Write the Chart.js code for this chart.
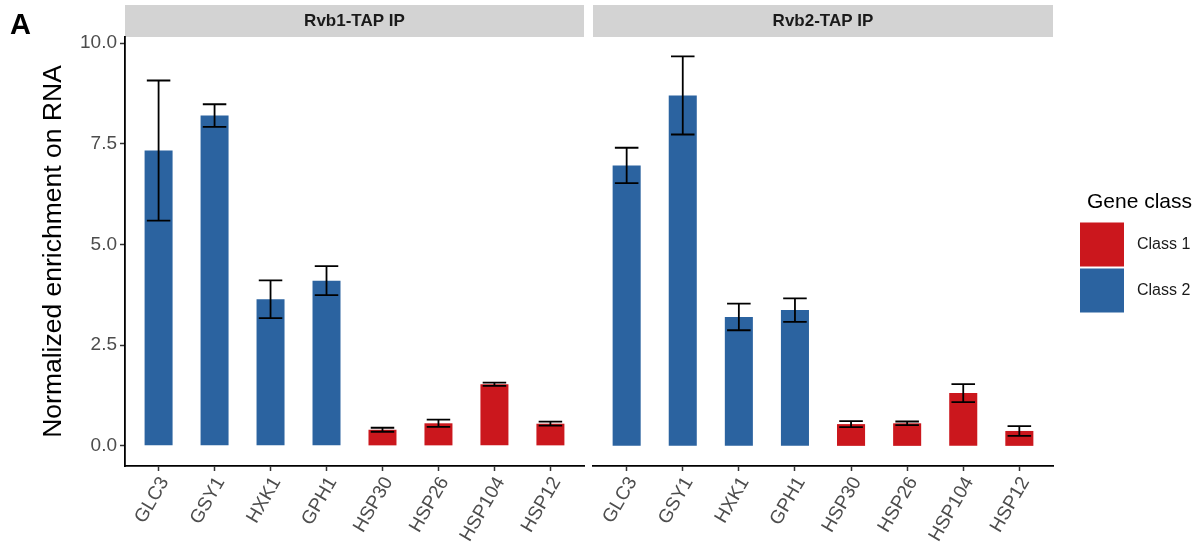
<!DOCTYPE html>
<html>
<head>
<meta charset="utf-8">
<script src="https://cdn.jsdelivr.net/npm/chart.js@4.4.1/dist/chart.umd.min.js"></script>
<style>
  html, body { margin: 0; padding: 0; background: #fff; }
  #wrap { position: relative; width: 1201px; height: 550px; overflow: hidden; }
  canvas { position: absolute; top: 0; }
  #c1 { left: 0; }
  #c2 { left: 589px; }
</style>
</head>
<body>
<div id="wrap">
  <canvas id="c1" width="589" height="550"></canvas>
  <canvas id="c2" width="612" height="550"></canvas>
</div>
<script>
// Genes on the x axis and their class (1 = heat shock, 2 = glycogen metabolism)
const genes = ['GLC3', 'GSY1', 'HXK1', 'GPH1', 'HSP30', 'HSP26', 'HSP104', 'HSP12'];
const geneClass = [2, 2, 2, 2, 1, 1, 1, 1];
const panelTitles = ['Rvb1-TAP IP', 'Rvb2-TAP IP'];

// Mean normalized enrichment and error (half-width of the error bar)
const rvb1Mean = [7.33, 8.20, 3.64, 4.10, 0.40, 0.56, 1.53, 0.55];
const rvb1Err  = [1.74, 0.28, 0.47, 0.36, 0.05, 0.09, 0.04, 0.05];
const rvb2Mean = [6.96, 8.70, 3.20, 3.37, 0.54, 0.56, 1.31, 0.37];
const rvb2Err  = [0.44, 0.97, 0.33, 0.29, 0.075, 0.045, 0.225, 0.12];

const yTicks = [0, 2.5, 5, 7.5, 10];
const classNames = ['Class 1', 'Class 2'];
const classColors = ['#CB171D', '#2B63A0'];

Chart.defaults.font.family = "'Liberation Sans', Arial, sans-serif";
Chart.defaults.animation = false;

const CANVAS2_LEFT = 589;

// Grey facet strip above each panel
const stripPlugin = {
  id: 'strip',
  beforeDraw(chart, args, opts) {
    const { ctx, chartArea } = chart;
    ctx.save();
    ctx.fillStyle = '#D3D3D3';
    ctx.fillRect(chartArea.left, 5, chartArea.right - chartArea.left, 32);
    ctx.fillStyle = '#1A1A1A';
    ctx.font = "bold 17px 'Liberation Sans', Arial, sans-serif";
    ctx.textAlign = 'center';
    ctx.textBaseline = 'middle';
    ctx.fillText(opts.text, (chartArea.left + chartArea.right) / 2, 21.5);
    ctx.restore();
  }
};

// Mean +/- error whiskers with caps
const errorBarPlugin = {
  id: 'errorBars',
  afterDatasetsDraw(chart, args, opts) {
    const { ctx } = chart;
    const xs = chart.scales.x, ys = chart.scales.y;
    const data = chart.data.datasets[0].data;
    const step = xs.getPixelForValue(1) - xs.getPixelForValue(0);
    const half = step * opts.capRatio;
    ctx.save();
    ctx.strokeStyle = '#000';
    ctx.lineWidth = 1.8;
    data.forEach((pt, i) => {
      const e = opts.err[i];
      const x = xs.getPixelForValue(pt.x);
      const yHi = ys.getPixelForValue(pt.y + e);
      const yLo = ys.getPixelForValue(pt.y - e);
      ctx.beginPath();
      ctx.moveTo(x, yHi); ctx.lineTo(x, yLo);
      ctx.moveTo(x - half, yHi); ctx.lineTo(x + half, yHi);
      ctx.moveTo(x - half, yLo); ctx.lineTo(x + half, yLo);
      ctx.stroke();
    });
    ctx.restore();
  }
};

// Panel letter in the top-left corner
const letterPlugin = {
  id: 'panelLetter',
  afterDraw(chart, args, opts) {
    if (!opts.text) return;
    const { ctx } = chart;
    ctx.save();
    ctx.fillStyle = '#000';
    ctx.font = "bold 29px 'Liberation Sans', Arial, sans-serif";
    ctx.textBaseline = 'alphabetic';
    ctx.fillText(opts.text, 10, 34);
    ctx.restore();
  }
};

// Gene class legend to the right of the second panel
const classLegendPlugin = {
  id: 'classLegend',
  afterDraw(chart, args, opts) {
    if (!opts.show) return;
    const { ctx } = chart;
    const x0 = 1080 - CANVAS2_LEFT;
    ctx.save();
    ctx.fillStyle = '#000';
    ctx.font = "21px 'Liberation Sans', Arial, sans-serif";
    ctx.textBaseline = 'alphabetic';
    ctx.fillText('Gene class', x0 + 7, 208);
    classNames.forEach((name, k) => {
      const top = 222.5 + k * 46;
      ctx.fillStyle = classColors[k];
      ctx.fillRect(x0, top, 44, 44);
      ctx.fillStyle = '#1A1A1A';
      ctx.font = "16px 'Liberation Sans', Arial, sans-serif";
      ctx.textBaseline = 'middle';
      ctx.fillText(name, 1137 - CANVAS2_LEFT, top + 22);
    });
    ctx.restore();
  }
};

const tickGrid = {
  display: true,
  offset: false,
  drawOnChartArea: false,
  drawTicks: true,
  tickLength: 5,
  tickColor: '#333',
  tickWidth: 1.5
};

function makeConfig(title, means, errs, first) {
  return {
    type: 'bar',
    data: {
      datasets: [{
        data: means.map((v, i) => ({ x: i, y: v })),
        backgroundColor: geneClass.map(c => classColors[c - 1]),
        borderWidth: 0,
        barPercentage: 0.5,
        categoryPercentage: 1.0
      }]
    },
    options: {
      responsive: false,
      devicePixelRatio: 1,
      layout: {
        padding: first ? { top: 37, left: 0, right: 5, bottom: 0 }
                       : { top: 37, left: 4, right: 148, bottom: 0 }
      },
      plugins: {
        legend: { display: false },
        tooltip: { enabled: false },
        strip: { text: title },
        errorBars: { err: errs, capRatio: 0.21 },
        panelLetter: { text: first ? 'A' : '' },
        classLegend: { show: !first }
      },
      scales: {
        x: {
          type: 'linear',
          offset: false,
          bounds: 'data',
          min: -0.6,
          max: 7.6,
          afterBuildTicks: s => { s.ticks = genes.map((g, i) => ({ value: i })); },
          afterFit: s => { s.height = 84; },
          ticks: {
            callback: v => genes[v],
            autoSkip: false,
            minRotation: 60,
            maxRotation: 60,
            labelOffset: 6,
            padding: 2,
            color: '#4D4D4D',
            font: { size: 19 }
          },
          grid: tickGrid,
          border: { display: true, color: '#000', width: 1.8 }
        },
        y: {
          display: first,
          min: -0.5,
          max: 10.15,
          afterBuildTicks: s => { s.ticks = yTicks.map(v => ({ value: v })); },
          afterFit: s => { s.width = first ? 125 : 0; },
          ticks: {
            callback: v => v.toFixed(1),
            padding: 3,
            color: '#4D4D4D',
            font: { size: 19 }
          },
          grid: tickGrid,
          border: { display: true, color: '#000', width: 1.8 },
          title: {
            display: true,
            text: 'Normalized enrichment on RNA',
            color: '#000',
            font: { size: 26.5 },
            padding: { top: 38, bottom: 0 }
          }
        }
      }
    },
    plugins: [stripPlugin, errorBarPlugin, letterPlugin, classLegendPlugin]
  };
}

new Chart(document.getElementById('c1'), makeConfig(panelTitles[0], rvb1Mean, rvb1Err, true));
new Chart(document.getElementById('c2'), makeConfig(panelTitles[1], rvb2Mean, rvb2Err, false));
</script>
</body>
</html>
